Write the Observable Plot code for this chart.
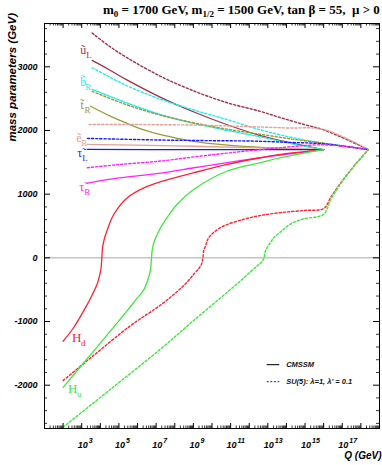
<!DOCTYPE html>
<html><head><meta charset="utf-8">
<script src="https://cdn.jsdelivr.net/npm/d3@7"></script>
<script src="https://cdn.jsdelivr.net/npm/@observablehq/plot@0.6"></script>
<style>
body{margin:0;background:#fff;}
#wrap{position:relative;width:382px;height:465px;overflow:hidden;}
#title{position:absolute;left:103px;top:3px;height:20px;white-space:nowrap;font:bold 13px "Liberation Serif",serif;line-height:13px;color:#000;}
#title sub{font-size:9px;vertical-align:-3px;line-height:0;}
#chart{position:absolute;left:0;top:22px;}
</style></head>
<body>
<div id="wrap">
<div id="title">m<sub>0</sub> = 1700 GeV, m<sub>1/2</sub> = 1500 GeV, tan β = 55,&nbsp; μ &gt; 0</div>
<div id="chart"></div>
</div>
<script>
// ---- data: [log10(Q/GeV), mass parameter (GeV)] ----
const uL_cmssm = [[3.56,3100],[4.5,2950],[5.45,2790],[7.24,2520],[9.03,2290],[10.82,2090],[12.6,1920],[14.3,1800],[16,1700]];
const uL_su5   = [[3.56,3530],[4.5,3320],[5.45,3140],[7.24,2850],[9.03,2620],[10.82,2435],[12.6,2300],[13.7,2200],[15,2090],[16,2010],[18.4,1700]];
const bR_cmssm = [[3.56,2645],[5.45,2430],[7.24,2250],[9.03,2110],[10.82,2000],[12.6,1900],[14.3,1790],[16,1700]];
const bR_su5   = [[3.56,2985],[5.45,2700],[7.24,2490],[9.03,2320],[10.82,2170],[12.6,2010],[14.3,1890],[16,1800],[18.4,1700]];
const tR_cmssm = [[3.47,2380],[4.5,2230],[5.45,2110],[6.34,2010],[7.24,1935],[9.03,1830],[10.82,1770],[12.6,1735],[14.3,1712],[16,1700]];
const tR_su5   = [[3.56,2615],[5.45,2400],[7.24,2240],[9.03,2120],[10.82,2020],[12.6,1940],[14.3,1865],[16,1800],[18.4,1700]];
const eR_cmssm = [[3.3,1782],[6,1770],[9,1752],[12,1730],[14,1715],[16,1700]];
const eR_su5   = [[3.4,2095],[6,2093],[9,2085],[12,2060],[14,2040],[16,2015],[18.4,1700]];
const tauL_cmssm = [[3.3,1702],[9,1700],[16,1700]];
const tauL_su5   = [[3.3,1876],[7.24,1850],[10,1840],[12.08,1834],[14,1815],[16,1790],[18.4,1700]];
const tauR_cmssm = [[3.3,1175],[5,1255],[7.24,1330],[9.03,1415],[10.82,1495],[12.6,1572],[13.69,1615],[16,1700]];
const tauR_su5   = [[3.3,1415],[5,1465],[7.24,1520],[9.03,1585],[10.82,1645],[12.6,1700],[13.69,1730],[16,1775],[18.4,1700]];
const Hd_cmssm = [[2.0,-1310],[2.58,-1090],[3.3,-730],[3.6,-560],[3.83,-410],[3.95,-290],[4.04,-160],[4.08,0],[4.12,160],[4.2,280],[4.38,445],[4.73,685],[5.45,945],[6.34,1100],[7.24,1195],[9.03,1337],[10.82,1468],[12.61,1572],[13.69,1625],[16,1700]];
const Hu_cmssm = [[2.0,-2035],[3.65,-1460],[5.45,-830],[5.9,-660],[6.34,-500],[6.6,-300],[6.7,-180],[6.75,0],[6.8,150],[6.92,275],[7.06,371],[7.24,475],[7.77,710],[8.13,841],[9.03,1076],[10.82,1364],[12.61,1494],[13.69,1572],[16,1700]];
const Hd_su5 = [[2.0,-1928],[3.65,-1530],[5.62,-1066],[7.24,-740],[8.13,-530],[8.6,-400],[9.03,-255],[9.3,-165],[9.45,-90],[9.51,0],[9.56,120],[9.65,185],[9.83,318],[10.46,475],[11.72,606],[12.6,665],[13.69,710],[15,745],[16,773],[16.4,960],[17,1210],[17.63,1440],[18.4,1700]];
const Hu_su5 = [[2.0,-2660],[4.5,-2075],[7.24,-1431],[9.03,-980],[10.82,-540],[11.5,-370],[12.08,-215],[12.43,-125],[12.7,-55],[12.79,0],[12.86,100],[12.97,165],[13.15,245],[13.33,318],[13.69,410],[14.2,530],[14.9,610],[16,685],[16.4,930],[17,1200],[17.63,1440],[18.4,1700]];

const xLabelExponents = [3,5,7,9,11,13,15,17];
const yLabelValues = [-2000,-1000,0,1000,2000,3000];
const legendNames = ["CMSSM", "SU(5): \u03bb=1, \u03bb' = 0.1"];
const legendLevels = [-1677, -1944];

// ---- styles ----
const colors = {uL:"#a03048", bR:"#22eeee", tR:"#999933", eR:"#e3a098", tauL:"#1a1aff", tauR:"#ff22ff", Hd:"#ff2233", Hu:"#3ee83e"};
const series = [
  ["uL","CMSSM",uL_cmssm],["uL","SU5",uL_su5],
  ["bR","CMSSM",bR_cmssm],["bR","SU5",bR_su5],
  ["tR","CMSSM",tR_cmssm],["tR","SU5",tR_su5],
  ["eR","CMSSM",eR_cmssm],["eR","SU5",eR_su5],
  ["tauL","CMSSM",tauL_cmssm],["tauL","SU5",tauL_su5],
  ["tauR","CMSSM",tauR_cmssm],["tauR","SU5",tauR_su5],
  ["Hd","CMSSM",Hd_cmssm],["Hd","SU5",Hd_su5],
  ["Hu","CMSSM",Hu_cmssm],["Hu","SU5",Hu_su5]
];
// labels anchored at first point of CMSSM curve, offsets in px
const labelStyle = [
  {key:"uL", base:"\u0169", sub:"L", dx:-12, dy:-6, sdx:6, fs:12},
  {key:"bR", base:"b\u0303", sub:"R", dx:-12, dy:-3, sdx:5, fs:12},
  {key:"tR", base:"t\u0303", sub:"R", dx:-10, dy:3, sdx:4, fs:12},
  {key:"eR", base:"\u1ebd", sub:"R", dx:-11, dy:-2, sdx:5, fs:12},
  {key:"tauL", base:"\u03c4\u0303", sub:"L", dx:-10, dy:8, sdx:5, fs:12},
  {key:"tauR", base:"\u03c4\u0303", sub:"R", dx:-8, dy:8, sdx:5, fs:12},
  {key:"Hd", base:"H", sub:"d", dx:9, dy:1, sdx:9, fs:13},
  {key:"Hu", base:"H", sub:"u", dx:5, dy:6, sdx:9, fs:13}
];

const W = 382, H = 443, mL = 44, mR = 3, mT = 1, mB = 37;
const fW = W - mL - mR, fH = H - mT - mB;
const sans = "Liberation Sans, Arial, sans-serif";
const serif = "Liberation Serif, Times New Roman, serif";

const rows = [];
for (const [key, model, pts] of series) for (const [lq, v] of pts) rows.push({key, model, Q: 10 ** lq, v});

const majorX = d3.range(2, 19).map(e => 10 ** e);
const minorX = d3.range(1, 19).flatMap(e => d3.range(2, 10).map(k => k * 10 ** e));
const minorY = d3.range(-2600, 3601, 200).filter(v => v % 1000 !== 0);
const majorY = d3.range(-2000, 3001, 1000);

const marks = [
  Plot.ruleY([0], {stroke: "#a8a8a8", strokeWidth: 1}),
];
for (const [key, model] of series) {
  marks.push(Plot.line(rows.filter(r => r.key === key && r.model === model), {
    x: "Q", y: "v", stroke: colors[key], strokeWidth: model === "CMSSM" ? 1.3 : 1.4,
    strokeDasharray: model === "CMSSM" ? null : "2.2,2", curve: "catmull-rom"
  }));
}
for (const L of labelStyle) {
  const first = rows.find(r => r.key === L.key && r.model === "CMSSM");
  marks.push(Plot.text([first], {x: "Q", y: "v", text: () => L.base, dx: L.dx, dy: L.dy, fill: colors[L.key],
    fontFamily: serif, fontSize: L.fs, textAnchor: "start", lineAnchor: "bottom"}));
  marks.push(Plot.text([first], {x: "Q", y: "v", text: () => L.sub, dx: L.dx + L.sdx, dy: L.dy + 4, fill: colors[L.key],
    fontFamily: serif, fontSize: 9, textAnchor: "start", lineAnchor: "bottom"}));
}
// frame ticks (inward)
marks.push(
  Plot.ruleX(minorX, {x: d => d, insetTop: fH - 2.5, stroke: "#000", strokeWidth: 0.8}),
  Plot.ruleX(majorX, {x: d => d, insetTop: fH - 5, stroke: "#000", strokeWidth: 1}),
  Plot.ruleX(minorX, {x: d => d, insetBottom: fH - 2.5, stroke: "#000", strokeWidth: 0.8}),
  Plot.ruleX(majorX, {x: d => d, insetBottom: fH - 5, stroke: "#000", strokeWidth: 1}),
  Plot.ruleY(minorY, {y: d => d, insetRight: fW - 3, stroke: "#000", strokeWidth: 0.8}),
  Plot.ruleY(majorY, {y: d => d, insetRight: fW - 6, stroke: "#000", strokeWidth: 1}),
  Plot.ruleY(minorY, {y: d => d, insetLeft: fW - 3, stroke: "#000", strokeWidth: 0.8}),
  Plot.ruleY(majorY, {y: d => d, insetLeft: fW - 6, stroke: "#000", strokeWidth: 1}),
  Plot.frame({stroke: "#000", strokeWidth: 1})
);
// tick labels
marks.push(
  Plot.text(yLabelValues, {y: d => d, frameAnchor: "left", text: d => String(d), dx: -7, textAnchor: "end",
    fontFamily: sans, fontSize: 9, fontWeight: "bold", fontStyle: "italic", fill: "#000"}),
  Plot.text(xLabelExponents, {x: d => 10 ** d, frameAnchor: "bottom", text: () => "10", dx: 1, dy: 19, lineAnchor: "bottom",
    fontFamily: sans, fontSize: 9, fontWeight: "bold", fontStyle: "italic", fill: "#000"}),
  Plot.text(xLabelExponents, {x: d => 10 ** d, frameAnchor: "bottom", text: d => String(d), dx: 7, dy: 14, lineAnchor: "bottom", textAnchor: "start",
    fontFamily: sans, fontSize: 7, fontWeight: "bold", fontStyle: "italic", fill: "#000"}),
  Plot.text(["Q (GeV)"], {frameAnchor: "bottom-right", text: d => d, dx: 2, dy: 30, textAnchor: "end", lineAnchor: "bottom",
    fontFamily: sans, fontSize: 10, fontWeight: "bold", fontStyle: "italic", fill: "#000"}),
  Plot.text(["mass parameters (GeV)"], {frameAnchor: "top-left", text: d => d, dx: -37, dy: 118, rotate: -90, textAnchor: "start",
    fontFamily: sans, fontSize: 11.5, fontWeight: "bold", fontStyle: "italic", fill: "#000"})
);
// legend
marks.push(
  Plot.ruleY([legendLevels[0]], {y: d => d, insetLeft: 222.7, insetRight: 99.7, stroke: "#222", strokeWidth: 1.2}),
  Plot.ruleY([legendLevels[1]], {y: d => d, insetLeft: 222.7, insetRight: 99.7, stroke: "#555", strokeWidth: 1.2, strokeDasharray: "2,1.6"}),
  Plot.text(legendNames, {y: (d, i) => legendLevels[i], frameAnchor: "left", text: d => d, dx: 241.7, textAnchor: "start",
    fontFamily: sans, fontSize: 7.5, fontWeight: "bold", fontStyle: "italic", fill: "#111"})
);

const chart = Plot.plot({
  width: W, height: H, marginLeft: mL, marginRight: mR, marginTop: mT, marginBottom: mB,
  x: {type: "log", domain: [10, 1e19], axis: null},
  y: {domain: [-2680, 3680], axis: null},
  style: {background: "#fff", overflow: "visible"},
  marks
});
document.getElementById("chart").appendChild(chart);
</script>
</body></html>
